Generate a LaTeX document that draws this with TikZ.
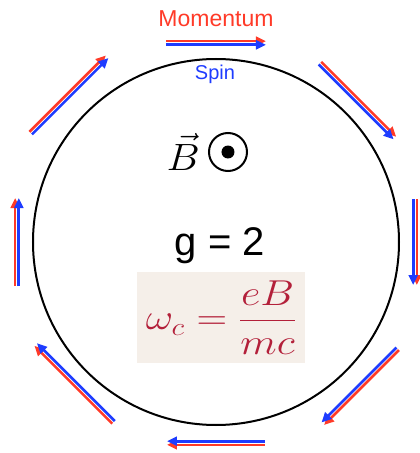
\RequirePackage{fix-cm}
\documentclass[tikz,border=0pt]{standalone}
\usepackage{fontspec}
\usepackage{amsmath}
\usepackage{graphicx}
\usetikzlibrary{arrows.meta}
\newfontfamily\labelfont{Liberation Sans}
\definecolor{momred}{HTML}{FF3A28}
\definecolor{spinblue}{HTML}{1E3CFF}
\definecolor{eqred}{HTML}{B3203A}
\definecolor{eqpaper}{HTML}{F5EFE9}

\begin{document}
\begin{tikzpicture}[x=1pt,y=1pt,
    spinarrow/.style={line width=2.6pt,-{Triangle[length=10pt,width=9pt]}}]
    \useasboundingbox (-216,-211) rectangle (204,242);
    \draw[line width=2pt] (0,0) circle (183);
    % angle / radius / half length of each arrow pair
    \foreach \a/\r/\h in {90/199/50,45/200/53,0/199/43,-45/204/53,-90/201/49,-135/200/55,180/199/44,135/208/54}{
      \draw[spinarrow,momred,rotate=\a] (\r+1.8,\h) -- (\r+1.8,-\h);
      \draw[spinarrow,spinblue,rotate=\a] (\r-1.8,\h) -- (\r-1.8,-\h);
    }
    \node[anchor=base,text=momred,font=\labelfont\fontsize{23}{27}\selectfont] (momentum) at (0,215.5) {Momentum};
    \node[anchor=base,text=spinblue,font=\labelfont\fontsize{20}{24}\selectfont] (spin) at (-1,162) {Spin};
    \node[anchor=base east,inner sep=0pt,font=\fontsize{38}{44}\selectfont] (bvec) at (-16,72) {\scalebox{1.1}[1]{$\vec{B}$}};
    \node[circle,draw,line width=2pt,minimum size=38pt] (bfield) at (12,90) {};
    \fill (bfield.center) circle (6.5);
    \node[anchor=base,font=\labelfont\fontsize{40}{46}\selectfont] (gfactor) at (4,-13) {g = 2};
    \node[fill=eqpaper,text=eqred,minimum width=168pt,minimum height=91pt,inner sep=0pt,font=\fontsize{36}{42}\selectfont] (freq) at (5,-75.5) {\scalebox{1.18}[1]{$\displaystyle \omega_c = \frac{eB}{mc}$}};
\end{tikzpicture}
\end{document}
